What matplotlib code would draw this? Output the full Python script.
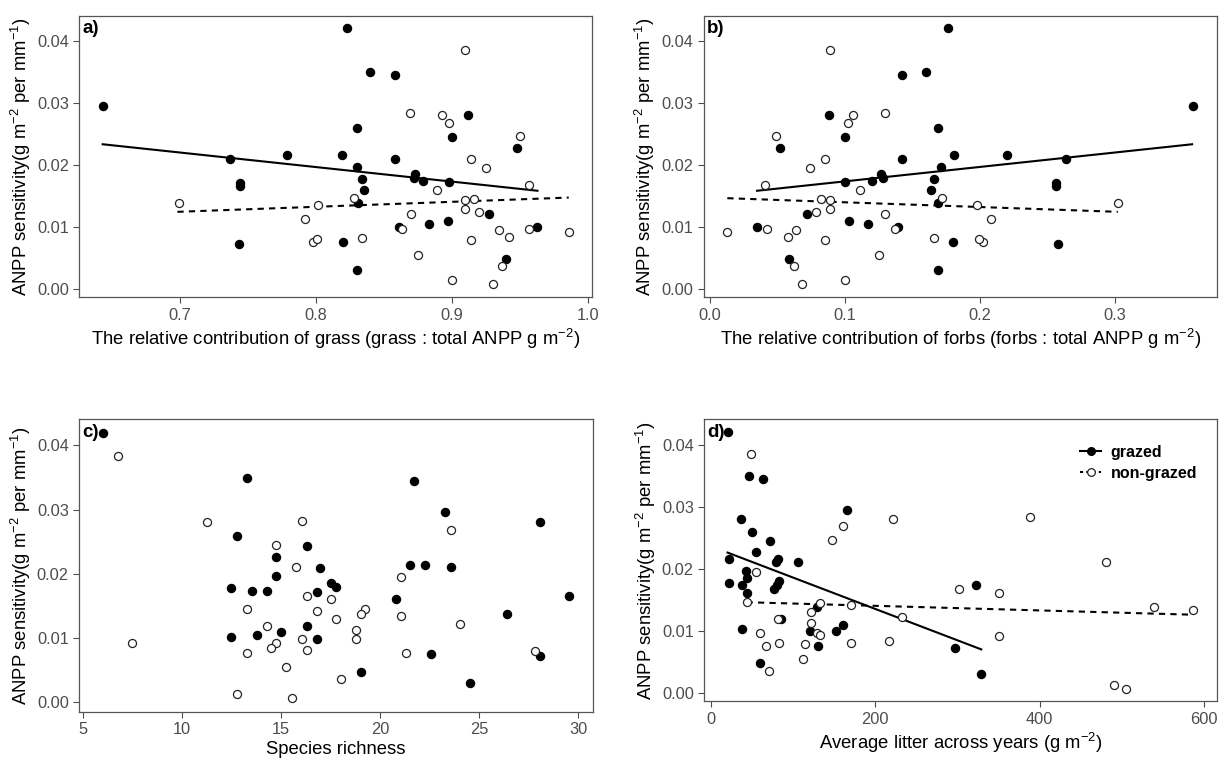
import matplotlib
matplotlib.use("Agg")
import matplotlib.pyplot as plt
from matplotlib.lines import Line2D
from matplotlib.ticker import FormatStrFormatter

plt.rcParams['font.family'] = ['Liberation Sans', 'DejaVu Sans']
plt.rcParams['mathtext.fontset'] = 'custom'
plt.rcParams['mathtext.rm'] = 'Liberation Sans'
plt.rcParams['mathtext.it'] = 'Liberation Sans:italic'
plt.rcParams['mathtext.bf'] = 'Liberation Sans:bold'

# ANPP sensitivity, shared by panels a) and b)
grazed_y = [0.0294, 0.0420, 0.0209, 0.0215, 0.0215, 0.0171, 0.0166, 0.0072, 0.0076, 0.0350,
            0.0344, 0.0280, 0.0259, 0.0244, 0.0227, 0.0210, 0.0197, 0.0177, 0.0185, 0.0178,
            0.0174, 0.0172, 0.0160, 0.0138, 0.0120, 0.0100, 0.0104, 0.0110, 0.0100, 0.0048, 0.0030]
nongrazed_y = [0.0138, 0.0135, 0.0113, 0.0076, 0.0080, 0.0385, 0.0283, 0.0280, 0.0268, 0.0246,
               0.0210, 0.0195, 0.0167, 0.0160, 0.0146, 0.0143, 0.0144, 0.0129, 0.0123, 0.0120,
               0.0096, 0.0094, 0.0097, 0.0092, 0.0083, 0.0081, 0.0079, 0.0054, 0.0036, 0.0014, 0.0007]

# a) grass fraction
grass_grazed = [0.643, 0.823, 0.737, 0.779, 0.819, 0.744, 0.744, 0.743, 0.820, 0.840,
                0.858, 0.912, 0.830, 0.900, 0.948, 0.858, 0.830, 0.834, 0.873, 0.872,
                0.879, 0.898, 0.835, 0.831, 0.927, 0.861, 0.883, 0.897, 0.963, 0.940, 0.830]
grass_nongrazed = [0.699, 0.8015, 0.792, 0.798, 0.801, 0.910, 0.869, 0.893, 0.898, 0.950,
                   0.914, 0.925, 0.957, 0.889, 0.828, 0.910, 0.916, 0.910, 0.920, 0.870,
                   0.863, 0.935, 0.957, 0.986, 0.942, 0.834, 0.914, 0.875, 0.937, 0.900, 0.930]
grass_fit_grazed = ([0.643, 0.963], [0.0233, 0.0158])
grass_fit_nongrazed = ([0.698, 0.986], [0.0124, 0.0147])

# b) forb fraction
forbs_grazed = [0.358, 0.176, 0.264, 0.220, 0.181, 0.256, 0.256, 0.258, 0.180, 0.160,
                0.142, 0.088, 0.169, 0.100, 0.052, 0.142, 0.171, 0.166, 0.127, 0.128,
                0.120, 0.100, 0.164, 0.169, 0.072, 0.139, 0.117, 0.103, 0.035, 0.059, 0.169]
forbs_nongrazed = [0.302, 0.198, 0.208, 0.202, 0.199, 0.089, 0.130, 0.106, 0.102, 0.049,
                   0.085, 0.074, 0.041, 0.111, 0.172, 0.089, 0.082, 0.089, 0.079, 0.130,
                   0.137, 0.064, 0.042, 0.013, 0.058, 0.166, 0.085, 0.125, 0.062, 0.100, 0.068]
forbs_fit_grazed = ([0.035, 0.357], [0.0158, 0.0233])
forbs_fit_nongrazed = ([0.013, 0.302], [0.0146, 0.0124])

# c) species richness
rich_grazed_x = [5.98, 13.27, 12.75, 16.28, 14.75, 14.75, 16.96, 12.47, 13.52, 14.29,
                 16.79, 16.28, 12.47, 13.77, 15.0, 16.79, 21.72, 23.28, 28.05, 21.5,
                 22.27, 23.56, 17.51, 17.76, 20.79, 29.55, 26.41, 22.55, 28.07, 19.04, 24.53]
rich_grazed_y = [0.0420, 0.0350, 0.0259, 0.0244, 0.0227, 0.0196, 0.0209, 0.0178, 0.0173, 0.0173,
                 0.0171, 0.0119, 0.0101, 0.0104, 0.0109, 0.0099, 0.0344, 0.0296, 0.0280, 0.0214,
                 0.0214, 0.0211, 0.0186, 0.0179, 0.0161, 0.0166, 0.0138, 0.0075, 0.0072, 0.0047, 0.0030]
rich_nongrazed_x = [6.75, 11.26, 16.03, 14.75, 15.76, 16.28, 16.79, 13.27, 14.29, 7.47,
                    14.75, 14.49, 16.03, 16.28, 13.27, 15.25, 12.75, 15.52, 23.56, 21.03,
                    17.51, 17.76, 19.24, 19.04, 21.03, 24.03, 18.79, 18.79, 21.30, 27.81, 18.02]
rich_nongrazed_y = [0.0383, 0.0280, 0.0283, 0.0245, 0.0211, 0.0166, 0.0142, 0.0145, 0.0119, 0.0093,
                    0.0093, 0.0084, 0.0098, 0.0081, 0.0077, 0.0055, 0.0013, 0.0006, 0.0269, 0.0195,
                    0.0161, 0.0129, 0.0145, 0.0138, 0.0135, 0.0122, 0.0113, 0.0098, 0.0076, 0.0080, 0.0036]

# d) average litter
litter_grazed_x = [20.6, 46.1, 63.1, 165.5, 36.4, 49.8, 72.0, 54.6, 22.6, 82.1,
                   79.3, 106.3, 42.5, 43.7, 22.6, 37.6, 43.7, 83.5, 80.5, 77.5,
                   129.9, 37.6, 85.3, 121.4, 153.0, 160.6, 131.1, 59.5, 297.4, 322.9, 329.0]
litter_grazed_y = [0.0420, 0.0350, 0.0344, 0.0295, 0.0280, 0.0259, 0.0244, 0.0227, 0.0215, 0.0215,
                   0.0210, 0.0210, 0.0197, 0.0185, 0.0177, 0.0173, 0.0161, 0.0180, 0.0174, 0.0168,
                   0.0138, 0.0103, 0.0119, 0.0100, 0.0100, 0.0110, 0.0076, 0.0048, 0.0073, 0.0174, 0.0030]
litter_nongrazed_x = [48.6, 160.6, 221.7, 148.1, 55.0, 43.7, 133.5, 170.7, 122.6, 233.0,
                      82.1, 122.6, 59.5, 129.9, 133.5, 67.1, 82.9, 114.8, 170.7, 217.3,
                      112.9, 70.8, 301.6, 388.0, 480.2, 350.3, 538.5, 586.7, 350.0, 490.4, 505.4]
litter_nongrazed_y = [0.0384, 0.0268, 0.0280, 0.0246, 0.0195, 0.0146, 0.0145, 0.0142, 0.0130, 0.0123,
                      0.0119, 0.0113, 0.0097, 0.0097, 0.0094, 0.0076, 0.0081, 0.0079, 0.0081, 0.0084,
                      0.0054, 0.0036, 0.0167, 0.0283, 0.0210, 0.0161, 0.0138, 0.0134, 0.0092, 0.0013, 0.0007]
litter_fit_grazed = ([20.6, 329.0], [0.0226, 0.0070])
litter_fit_nongrazed = ([43.7, 583.4], [0.0146, 0.0126])

YLABEL = r"ANPP sensitivity(g m$^{-2}$ per mm$^{-1}$)"
TICK_GREY = "#4D4D4D"
BORDER = "#555555"
TITLE_SIZE = 13.3


def style_axes(ax, label, xticks, xfmt):
    for side in ax.spines.values():
        side.set_color(BORDER)
        side.set_linewidth(0.9)
    ax.tick_params(colors=TICK_GREY, labelsize=11.8, length=4, width=0.8,
                   labelcolor=TICK_GREY)
    ax.set_xticks(xticks)
    ax.xaxis.set_major_formatter(FormatStrFormatter(xfmt))
    ax.set_yticks([0.0, 0.01, 0.02, 0.03, 0.04])
    ax.yaxis.set_major_formatter(FormatStrFormatter('%.2f'))
    ax.set_ylabel(YLABEL, fontsize=TITLE_SIZE, labelpad=3)
    ax.text(0.006, 0.985, label, transform=ax.transAxes, ha='left', va='top',
            fontsize=13.5, fontweight='bold')
    ax.margins(x=0.05, y=0.05)


def draw_points(ax, gx, gy, nx, ny):
    ax.plot(gx, gy, 'o', color='black', markersize=5.8, zorder=3)
    ax.plot(nx, ny, 'o', markerfacecolor='white', markeredgecolor='#222222',
            markeredgewidth=0.9, markersize=5.8, zorder=3)


def draw_fits(ax, fit_g, fit_n):
    ax.plot(fit_g[0], fit_g[1], '-', color='black', linewidth=1.5, zorder=2)
    ax.plot(fit_n[0], fit_n[1], '--', color='black', linewidth=1.5,
            dashes=(3, 2.5), zorder=2)


fig = plt.figure(figsize=(12.25, 7.61), dpi=100)
ax_a = fig.add_axes([0.0648, 0.6095, 0.4185, 0.3701])
ax_b = fig.add_axes([0.5747, 0.6095, 0.4186, 0.3701])
ax_c = fig.add_axes([0.0647, 0.0648, 0.4191, 0.3842])
ax_d = fig.add_axes([0.5749, 0.0784, 0.4183, 0.3706])

draw_points(ax_a, grass_grazed, grazed_y, grass_nongrazed, nongrazed_y)
draw_fits(ax_a, grass_fit_grazed, grass_fit_nongrazed)
style_axes(ax_a, "a)", [0.7, 0.8, 0.9, 1.0], '%.1f')
ax_a.set_xlabel(r"The relative contribution of grass (grass : total ANPP g m$^{-2}$)",
                fontsize=TITLE_SIZE, labelpad=3)

draw_points(ax_b, forbs_grazed, grazed_y, forbs_nongrazed, nongrazed_y)
draw_fits(ax_b, forbs_fit_grazed, forbs_fit_nongrazed)
style_axes(ax_b, "b)", [0.0, 0.1, 0.2, 0.3], '%.1f')
ax_b.set_xlabel(r"The relative contribution of forbs (forbs : total ANPP g m$^{-2}$)",
                fontsize=TITLE_SIZE, labelpad=3)

draw_points(ax_c, rich_grazed_x, rich_grazed_y, rich_nongrazed_x, rich_nongrazed_y)
style_axes(ax_c, "c)", [5, 10, 15, 20, 25, 30], '%d')
ax_c.set_xlabel("Species richness", fontsize=TITLE_SIZE, labelpad=3)

draw_points(ax_d, litter_grazed_x, litter_grazed_y, litter_nongrazed_x, litter_nongrazed_y)
draw_fits(ax_d, litter_fit_grazed, litter_fit_nongrazed)
style_axes(ax_d, "d)", [0, 200, 400, 600], '%d')
ax_d.set_xlabel(r"Average litter across years (g m$^{-2}$)", fontsize=TITLE_SIZE, labelpad=3)

handles = [
    Line2D([], [], color='black', linestyle='-', linewidth=1.5, marker='o',
           markersize=5.5, markerfacecolor='black'),
    Line2D([], [], color='black', linestyle='--', dashes=(1.5, 1.5), linewidth=1.5,
           marker='o', markersize=5.5, markerfacecolor='white',
           markeredgecolor='#222222', markeredgewidth=0.9),
]
ax_d.legend(handles, ["grazed", "non-grazed"], loc='upper right',
            bbox_to_anchor=(0.99, 0.96), frameon=False, handlelength=1.3,
            handletextpad=0.6, labelspacing=0.35,
            prop={'weight': 'bold', 'size': 11.5})

fig.savefig("out.png", dpi=100)
